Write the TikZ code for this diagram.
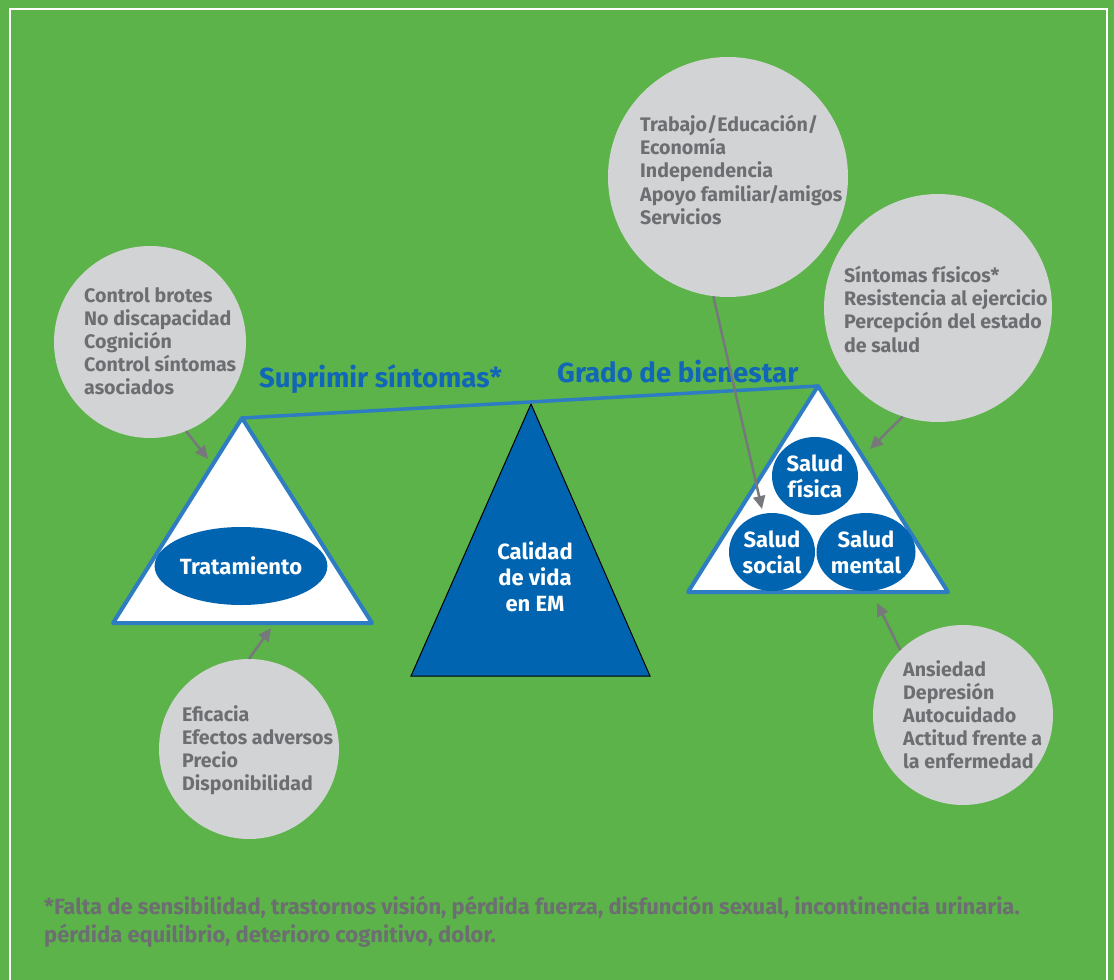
\documentclass[tikz,border=0pt]{standalone}
\usepackage{fontspec}
\setmainfont{Fira Sans}
\usepackage{tikz}
\usetikzlibrary{shapes.geometric,arrows.meta}
\definecolor{fondo}{HTML}{5BB349}
\definecolor{gris}{HTML}{D1D3D4}
\definecolor{grisletra}{HTML}{6D6E71}
\definecolor{grisflecha}{HTML}{77787B}
\definecolor{azul}{HTML}{0064B0}
\definecolor{azulborde}{HTML}{2E7CC1}
\definecolor{azultit}{HTML}{1266B8}
\newcommand{\lfont}{\bfseries\fontsize{19.6}{23.2}\selectfont}
\newcommand{\bfont}{\bfseries\fontsize{22}{26}\selectfont}
\tikzset{
	burbuja/.style={circle, fill=gris, inner sep=0},
	lista/.style={anchor=north west, inner sep=0, align=left, text=grisletra, font=\lfont},
	ovalo/.style={ellipse, fill=azul, inner sep=0, text=white, align=center, font=\bfont},
	titulo/.style={anchor=base west, inner sep=0, text=azultit, font=\bfseries\fontsize{27.6}{30}\selectfont},
	platillo/.style={fill=white, draw=azulborde, line width=4, line join=round},
	flecha/.style={draw=grisflecha, line width=2.5, -{Triangle[length=13pt,width=12pt]}},
}

\begin{document}
\begin{tikzpicture}[x=1pt,y=-1pt]
			\useasboundingbox (0,0) rectangle (1114,980);
			\fill[fondo] (0,0) rectangle (1114,980);
			\draw[white, line width=2.5] (10,990) -- (10,9) -- (1107,9) -- (1107,990);
			%
			\node[burbuja, minimum size=192] (brotes)	at (150,342)	{};
			\node[burbuja, minimum size=180] (eficacia)	at (249,749)	{};
			\node[burbuja, minimum size=240] (trabajo)	at (728,177)	{};
			\node[burbuja, minimum size=228] (fisicos)	at (938,308)	{};
			\node[burbuja, minimum size=180] (ansiedad)	at (963,715)	{};
			%
			\node[lista] (tbrotes)		at (84,287)		{Control brotes\\No discapacidad\\Cognición\\Control síntomas\\asociados};
			\node[lista] (teficacia)	at (182,705)	{Eficacia\\Efectos adversos\\Precio\\Disponibilidad};
			\node[lista] (ttrabajo)		at (640,115)	{Trabajo/Educación/\\Economía\\Independencia\\Apoyo familiar/amigos\\Servicios};
			\node[lista] (tfisicos)		at (844,266)	{Síntomas físicos*\\Resistencia al ejercicio\\Percepción del estado\\de salud};
			\node[lista] (tansiedad)	at (903,660)	{Ansiedad\\Depresión\\Autocuidado\\Actitud frente a\\la enfermedad};
			%
			\coordinate (izq)	at (242,418);
			\coordinate (cen)	at (531,404);
			\coordinate (der)	at (818,386);
			\fill[platillo]	(izq) -- (113,623) -- (372,623) -- cycle;
			\filldraw[fill=azul, draw=black, line width=1]	(cen) -- (411,676) -- (650,676) -- cycle;
			\fill[platillo]	(der) -- (688,592) -- (948,592) -- cycle;
			\draw[azulborde, line width=3.5] (izq) -- (der);
			%
			\node[ovalo, minimum width=157, minimum height=78] (trat)		at (241,566)	{Tratamiento};
			\node[ovalo, minimum width=86, minimum height=78] (sfisica)		at (815,476)	{Salud\\física};
			\node[ovalo, minimum width=86, minimum height=78] (ssocial)		at (772,552)	{Salud\\social};
			\node[ovalo, minimum width=86, minimum height=78] (smental)		at (866,552)	{Salud\\mental};
			\node[inner sep=0, text=white, align=center, font=\bfont] (calidad)	at (535,577)	{Calidad\\de vida\\en EM};
			%
			\node[titulo] (suprimir)	at (259,387)	{Suprimir síntomas*};
			\node[titulo] (grado)		at (557,382)	{Grado de bienestar};
			%
			\coordinate (p1)	at (208,459);
			\coordinate (p2)	at (271,628);
			\coordinate (p3)	at (762,509);
			\coordinate (p4)	at (870,449);
			\coordinate (p5)	at (877,603);
			\draw[flecha]	(brotes.-68)	-- (p1);
			\draw[flecha]	(eficacia.90)	-- (p2);
			\draw[flecha]	(trabajo.-97)	-- (p3);
			\draw[flecha]	(fisicos.-108)	-- (p4);
			\draw[flecha]	(ansiedad.134)	-- (p5);
			%
			\node[lista, font=\bfseries\fontsize{22}{28}\selectfont] (nota) at (44,896)	{*Falta de sensibilidad, trastornos visión, pérdida fuerza, disfunción sexual, incontinencia urinaria.\\pérdida equilibrio, deterioro cognitivo, dolor.};
		\end{tikzpicture}
\end{document}
